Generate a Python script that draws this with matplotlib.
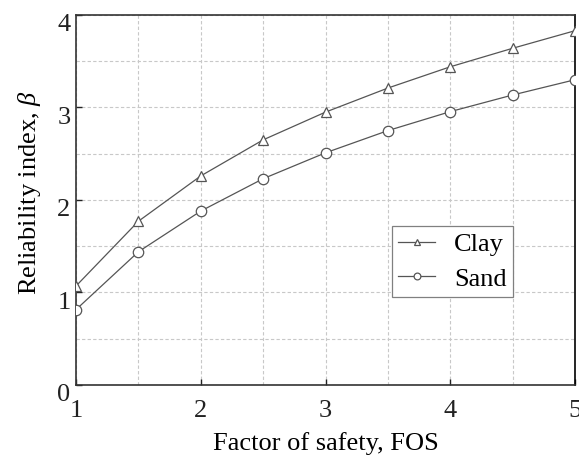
import matplotlib
matplotlib.use("Agg")
import matplotlib.pyplot as plt
import matplotlib.transforms as mtransforms
from matplotlib.ticker import MultipleLocator

fos = [1.0, 1.5, 2.0, 2.5, 3.0, 3.5, 4.0, 4.5, 5.0]
clay = [1.07, 1.77, 2.26, 2.65, 2.95, 3.21, 3.44, 3.64, 3.83]
sand = [0.815, 1.44, 1.88, 2.23, 2.51, 2.75, 2.955, 3.135, 3.30]

plt.rcParams['font.family'] = ['Liberation Serif', 'DejaVu Serif']
plt.rcParams['mathtext.fontset'] = 'custom'
plt.rcParams['mathtext.it'] = 'Liberation Serif:italic'
plt.rcParams['mathtext.rm'] = 'Liberation Serif'

fig = plt.figure(figsize=(5.79, 4.61), dpi=100)
ax = fig.add_axes([0.1313, 0.1649, 0.8618, 0.8026])

lc = '#555555'
ax.plot(fos, clay, color=lc, lw=0.9, marker='^', ms=7.5, mfc='white', mec=lc, mew=0.9, label='Clay', zorder=3)
ax.plot(fos, sand, color=lc, lw=0.9, marker='o', ms=7.5, mfc='white', mec=lc, mew=0.9, label='Sand', zorder=3)

ax.set_xlim(1, 5)
ax.set_ylim(0, 4)
ax.xaxis.set_major_locator(MultipleLocator(1))
ax.yaxis.set_major_locator(MultipleLocator(1))
ax.xaxis.set_minor_locator(MultipleLocator(0.5))
ax.yaxis.set_minor_locator(MultipleLocator(0.5))
ax.grid(which='both', color='#c8c8c8', linestyle=(0, (3, 2)), linewidth=0.8)
ax.set_axisbelow(True)
ax.tick_params(which='major', direction='in', length=4, width=1.0, labelsize=19, colors='#222222')
ax.tick_params(axis='x', which='major', pad=11)
ax.tick_params(axis='y', which='major', pad=4)
ax.tick_params(which='minor', length=0)
for s in ax.spines.values():
    s.set_linewidth(1.2)
    s.set_color('#333333')
ax.spines['right'].set_color('#000000')

offset = mtransforms.ScaledTranslation(0, -8 / 100, fig.dpi_scale_trans)
for lab in ax.get_yticklabels():
    lab.set_transform(lab.get_transform() + offset)

ax.set_xlabel('Factor of safety, FOS', fontsize=19, labelpad=7)
ax.set_ylabel(r'Reliability index, $\it{\beta}$', fontsize=19, labelpad=10)
ax.yaxis.label.set_y(0.52)

leg = ax.legend(loc='upper left', bbox_to_anchor=(0.633, 0.43), fontsize=19, frameon=True,
                fancybox=False, edgecolor='#808080', framealpha=1, markerscale=0.65,
                handlelength=1.4, borderpad=0.25, labelspacing=0.42, handletextpad=0.7,
                borderaxespad=0)
leg.get_frame().set_linewidth(0.9)

fig.savefig('out.png', dpi=100)
